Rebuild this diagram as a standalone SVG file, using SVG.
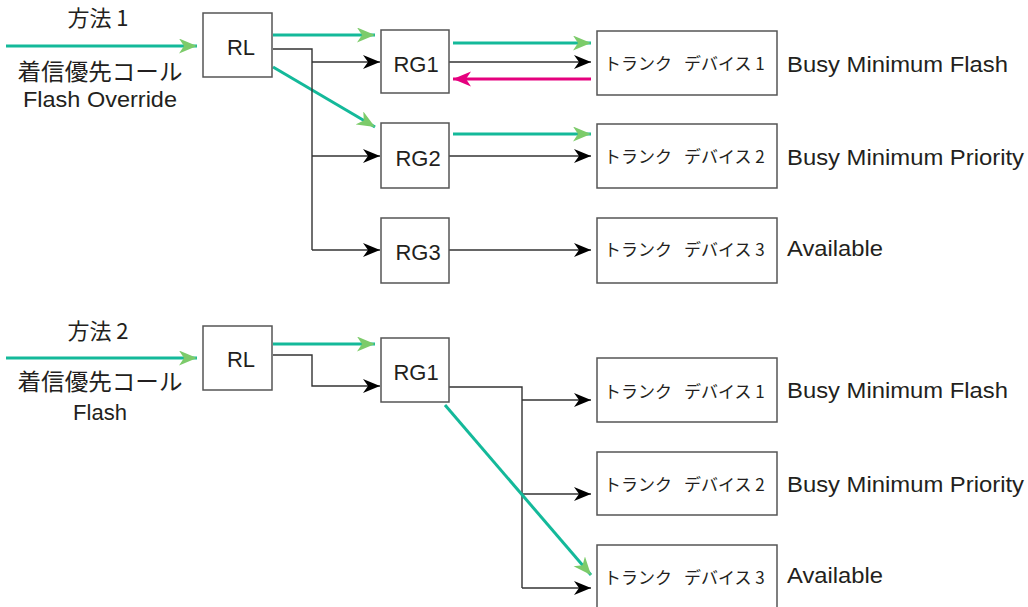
<svg xmlns="http://www.w3.org/2000/svg" width="1028" height="607" viewBox="0 0 1028 607">
<style>
.box{fill:#fff;stroke:#555;stroke-width:1.5}
.t{font-family:"Liberation Sans",Arial,sans-serif;font-size:22px;fill:#231f20}
.jp{font-family:"Noto Sans CJK JP",sans-serif;fill:#231f20}
.tk{font-family:"Noto Sans CJK JP",sans-serif;font-size:17px;fill:#231f20}
.blk{fill:none;stroke:#333;stroke-width:1.4}
.grn{fill:none;stroke:#14b99a;stroke-width:3}
.mag{fill:none;stroke:#e5007e;stroke-width:3}
</style>
<defs>
<marker id="ab" markerUnits="userSpaceOnUse" markerWidth="20" markerHeight="16" refX="17" refY="7" orient="auto" viewBox="0 0 20 16">
<path d="M0,0 L17,7 L0,14 L5,7 z" fill="#000"/>
</marker>
<marker id="ag" markerUnits="userSpaceOnUse" markerWidth="20" markerHeight="16" refX="18" refY="7.5" orient="auto" viewBox="0 0 20 16">
<path d="M0,0 L18,7.5 L0,15 L5,7.5 z" fill="#7ccb6a"/>
</marker>
<marker id="am" markerUnits="userSpaceOnUse" markerWidth="20" markerHeight="16" refX="18" refY="7.5" orient="auto" viewBox="0 0 20 16">
<path d="M0,0 L18,7.5 L0,15 L5,7.5 z" fill="#e5007e"/>
</marker>
</defs>
<rect width="1028" height="607" fill="#fff"/>

<g id="connectors">
<!-- method 1 -->
<line class="grn" x1="6" y1="46" x2="197" y2="46" marker-end="url(#ag)"/>
<line class="grn" x1="273" y1="35" x2="375" y2="35" marker-end="url(#ag)"/>
<line class="grn" x1="273" y1="67" x2="375" y2="127" marker-end="url(#ag)"/>
<polyline class="blk" points="273,49 312,49 312,250"/>
<line class="blk" x1="312" y1="62" x2="380" y2="62" marker-end="url(#ab)"/>
<line class="blk" x1="312" y1="156" x2="380" y2="156" marker-end="url(#ab)"/>
<line class="blk" x1="312" y1="250" x2="380" y2="250" marker-end="url(#ab)"/>
<line class="grn" x1="453" y1="43" x2="591" y2="43" marker-end="url(#ag)"/>
<line class="blk" x1="449" y1="62" x2="591" y2="62" marker-end="url(#ab)"/>
<line class="mag" x1="591" y1="79" x2="453" y2="79" marker-end="url(#am)"/>
<line class="grn" x1="453" y1="134" x2="591" y2="134" marker-end="url(#ag)"/>
<line class="blk" x1="449" y1="156" x2="591" y2="156" marker-end="url(#ab)"/>
<line class="blk" x1="449" y1="250" x2="591" y2="250" marker-end="url(#ab)"/>
<!-- method 2 -->
<line class="grn" x1="6" y1="358" x2="197" y2="358" marker-end="url(#ag)"/>
<line class="grn" x1="273" y1="344" x2="375" y2="344" marker-end="url(#ag)"/>
<polyline class="blk" points="273,355 312,355 312,386 380,386" marker-end="url(#ab)"/>
<polyline class="blk" points="449,387 522,387 522,588"/>
<line class="blk" x1="522" y1="400" x2="591" y2="400" marker-end="url(#ab)"/>
<line class="blk" x1="522" y1="494" x2="591" y2="494" marker-end="url(#ab)"/>
<line class="blk" x1="522" y1="588" x2="591" y2="588" marker-end="url(#ab)"/>
<line class="grn" x1="445" y1="405" x2="591" y2="575" marker-end="url(#ag)"/>
</g>

<!-- method 1 nodes -->
<g id="m1-input">
<text class="jp" x="98" y="26" font-size="22" text-anchor="middle">方法 1</text>
<text class="jp" x="100" y="80" font-size="23" text-anchor="middle" textLength="165" lengthAdjust="spacingAndGlyphs">着信優先コール</text>
<text class="t" x="100" y="107" text-anchor="middle" textLength="154" lengthAdjust="spacingAndGlyphs">Flash Override</text>
</g>
<g id="m1-rl"><rect class="box" x="203" y="13" width="69" height="64"/><text class="t" x="241" y="55" text-anchor="middle">RL</text></g>
<g id="m1-rg1"><rect class="box" x="381" y="30" width="68" height="63"/><text class="t" x="416" y="72" text-anchor="middle">RG1</text></g>
<g id="m1-rg2"><rect class="box" x="381" y="123" width="68" height="65"/><text class="t" x="418" y="166" text-anchor="middle">RG2</text></g>
<g id="m1-rg3"><rect class="box" x="381" y="218" width="68" height="65"/><text class="t" x="418" y="260" text-anchor="middle">RG3</text></g>
<g id="m1-trunk1"><rect class="box" x="597" y="31" width="180" height="64"/><text class="tk" y="70"><tspan x="604">トランク </tspan><tspan x="684">デバイス 1</tspan></text></g>
<g id="m1-trunk2"><rect class="box" x="597" y="124" width="180" height="64"/><text class="tk" y="163"><tspan x="604">トランク </tspan><tspan x="684">デバイス 2</tspan></text></g>
<g id="m1-trunk3"><rect class="box" x="597" y="218" width="180" height="65"/><text class="tk" y="256"><tspan x="604">トランク </tspan><tspan x="684">デバイス 3</tspan></text></g>
<g id="m1-status">
<text class="t" x="787" y="72" textLength="221" lengthAdjust="spacingAndGlyphs">Busy Minimum Flash</text>
<text class="t" x="787" y="165" textLength="237" lengthAdjust="spacingAndGlyphs">Busy Minimum Priority</text>
<text class="t" x="787" y="256" textLength="96" lengthAdjust="spacingAndGlyphs">Available</text>
</g>

<!-- method 2 nodes -->
<g id="m2-input">
<text class="jp" x="98" y="339" font-size="22" text-anchor="middle">方法 2</text>
<text class="jp" x="100" y="390" font-size="23" text-anchor="middle" textLength="165" lengthAdjust="spacingAndGlyphs">着信優先コール</text>
<text class="t" x="100" y="420" text-anchor="middle">Flash</text>
</g>
<g id="m2-rl"><rect class="box" x="203" y="326" width="69" height="64"/><text class="t" x="241" y="367" text-anchor="middle">RL</text></g>
<g id="m2-rg1"><rect class="box" x="381" y="338" width="68" height="64"/><text class="t" x="416" y="380" text-anchor="middle">RG1</text></g>
<g id="m2-trunk1"><rect class="box" x="597" y="358" width="180" height="64"/><text class="tk" y="398"><tspan x="604">トランク </tspan><tspan x="684">デバイス 1</tspan></text></g>
<g id="m2-trunk2"><rect class="box" x="597" y="452" width="180" height="63"/><text class="tk" y="491"><tspan x="604">トランク </tspan><tspan x="684">デバイス 2</tspan></text></g>
<g id="m2-trunk3"><rect class="box" x="597" y="545" width="180" height="64"/><text class="tk" y="584"><tspan x="604">トランク </tspan><tspan x="684">デバイス 3</tspan></text></g>
<g id="m2-status">
<text class="t" x="787" y="398" textLength="221" lengthAdjust="spacingAndGlyphs">Busy Minimum Flash</text>
<text class="t" x="787" y="492" textLength="237" lengthAdjust="spacingAndGlyphs">Busy Minimum Priority</text>
<text class="t" x="787" y="583" textLength="96" lengthAdjust="spacingAndGlyphs">Available</text>
</g>
</svg>
